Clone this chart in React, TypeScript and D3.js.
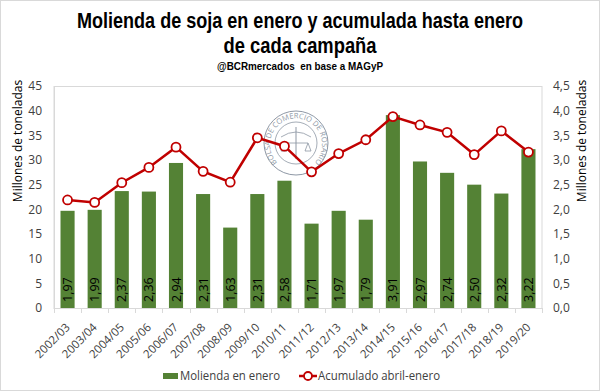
import React, { useEffect, useRef } from "react";
import * as d3 from "d3";

// campaigns
const campaigns = ["2002/03", "2003/04", "2004/05", "2005/06", "2006/07", "2007/08", "2008/09", "2009/10", "2010/11", "2011/12", "2012/13", "2013/14", "2014/15", "2015/16", "2016/17", "2017/18", "2018/19", "2019/20"];
// molienda en enero (Mt), right axis
const molienda = [1.97, 1.99, 2.37, 2.36, 2.94, 2.31, 1.63, 2.31, 2.58, 1.71, 1.97, 1.79, 3.91, 2.97, 2.74, 2.50, 2.32, 3.22];
// acumulado abril-enero (Mt), left axis
const acumulado = [21.9, 21.4, 25.4, 28.5, 32.6, 27.7, 25.5, 34.5, 32.8, 27.6, 31.3, 34.1, 38.8, 37.1, 35.6, 31.1, 35.9, 31.6];
const leftTicks = [0, 5, 10, 15, 20, 25, 30, 35, 40, 45];
const rightTicks = [0, 0.5, 1, 1.5, 2, 2.5, 3, 3.5, 4, 4.5];

const W = 600;
const H = 391;
const margin = { top: 86, right: 58, bottom: 83, left: 54 };
const labelFont = "'Open Sans', 'DejaVu Sans', sans-serif";
const titleFont = "'Liberation Sans', Arial, sans-serif";
const green = "#548235";
const red = "#C00000";

const fmt = (v: number, d: number) => v.toFixed(d).replace(".", ",");

export default function App() {
  const ref = useRef<SVGSVGElement>(null);

  useEffect(() => {
    const svg = d3.select(ref.current);
    svg.selectAll("*").remove();
    const innerW = W - margin.left - margin.right;
    const innerH = H - margin.top - margin.bottom;

    // background and outer border
    svg.append("rect").attr("x", 0.5).attr("y", 0.5).attr("width", W - 1).attr("height", H - 1)
      .attr("fill", "#fff").attr("stroke", "#d9d9d9");

    // titles (condensed look via textLength)
    const title = (txt: string, y: number, size: number, len: number) =>
      svg.append("text").attr("x", 300).attr("y", y).attr("text-anchor", "middle")
        .attr("textLength", len).attr("lengthAdjust", "spacingAndGlyphs")
        .style("font-family", titleFont).style("font-weight", "bold").style("font-size", `${size}px`)
        .attr("xml:space", "preserve")
        .text(txt);
    title("Molienda de soja en enero y acumulada hasta enero", 28, 22.5, 446);
    title("de cada campaña", 53, 22.5, 153);
    title("@BCRmercados  en base a MAGyP", 70, 11, 166);

    const g = svg.append("g").attr("transform", `translate(${margin.left},${margin.top})`);

    const x = d3.scaleBand().domain(campaigns).range([0, innerW]).paddingInner(0.48).paddingOuter(0.24);
    const yL = d3.scaleLinear().domain([0, 45]).range([innerH, 0]);
    const yR = d3.scaleLinear().domain([0, 4.5]).range([innerH, 0]);

    // plot area border
    g.append("rect").attr("x", 0).attr("y", 0.5).attr("width", innerW).attr("height", innerH)
      .attr("fill", "none").attr("stroke", "#d9d9d9");

    // watermark seal
    const seal = g.append("g").attr("transform", `translate(${296 - margin.left},${143 - margin.top})`).attr("opacity", 0.6);
    seal.append("circle").attr("r", 32).attr("fill", "none").attr("stroke", "#44546a").attr("stroke-width", 1);
    seal.append("circle").attr("r", 21).attr("fill", "none").attr("stroke", "#44546a").attr("stroke-width", 0.8);
    seal.append("path").attr("id", "sealArc").attr("fill", "none")
      .attr("d", "M -20,18 A 26 26 0 1 1 20,18");
    seal.append("text").style("font-family", labelFont).style("font-size", "7.5px").attr("fill", "#44546a")
      .append("textPath").attr("href", "#sealArc").attr("startOffset", "50%").attr("text-anchor", "middle")
      .text("BOLSA DE COMERCIO DE ROSARIO");
    seal.append("line").attr("x1", 0).attr("x2", 0).attr("y1", -16).attr("y2", 16).attr("stroke", "#44546a");
    seal.append("path").attr("d", "M -15,-6 Q 0,-16 15,-6 M -12,0 L -15,8 L -9,8 Z M 12,0 L 9,8 L 15,8 Z M -12,0 L 12,0")
      .attr("fill", "none").attr("stroke", "#44546a").attr("stroke-width", 0.8);

    // bars
    g.selectAll("rect.bar").data(molienda).join("rect").attr("class", "bar")
      .attr("x", (d, i) => x(campaigns[i]) as number)
      .attr("width", x.bandwidth())
      .attr("y", d => yR(d))
      .attr("height", d => innerH - yR(d))
      .attr("fill", green);

    // bar labels
    g.selectAll("text.blabel").data(molienda).join("text").attr("class", "blabel")
      .attr("transform", (d, i) => `translate(${(x(campaigns[i]) as number) + x.bandwidth() / 2 + 4.5},${innerH - 6}) rotate(-90)`)
      .style("font-family", labelFont).style("font-size", "12.5px").attr("fill", "#000")
      .text(d => fmt(d, 2));

    // line
    const line = d3.line<number>()
      .x((d, i) => (x(campaigns[i]) as number) + x.bandwidth() / 2)
      .y(d => yL(d));
    g.append("path").datum(acumulado).attr("d", line).attr("fill", "none")
      .attr("stroke", red).attr("stroke-width", 2.5);
    g.selectAll("circle.pt").data(acumulado).join("circle").attr("class", "pt")
      .attr("cx", (d, i) => (x(campaigns[i]) as number) + x.bandwidth() / 2)
      .attr("cy", d => yL(d)).attr("r", 4.5)
      .attr("fill", "#fff").attr("stroke", red).attr("stroke-width", 1.8);

    // x axis
    const step = x.step();
    const xa = g.append("g").attr("transform", `translate(0,${innerH})`);
    xa.append("line").attr("x1", 0).attr("x2", innerW).attr("y1", 0.5).attr("y2", 0.5).attr("stroke", "#d9d9d9");
    d3.range(campaigns.length + 1).forEach(i => {
      const px = Math.round(i * step) + 0.5;
      xa.append("line").attr("x1", px).attr("x2", px).attr("y1", 0).attr("y2", 5).attr("stroke", "#d9d9d9");
    });
    xa.selectAll("text").data(campaigns).join("text")
      .attr("transform", d => `translate(${(x(d) as number) + x.bandwidth() / 2 + 3},${20}) rotate(-45)`)
      .attr("text-anchor", "end")
      .style("font-family", labelFont).style("font-size", "11.5px").attr("fill", "#404040")
      .text(d => d);

    // left axis
    const la = g.append("g").call(d3.axisLeft(yL).tickValues(leftTicks).tickSize(0).tickPadding(12));
    la.select(".domain").attr("stroke", "#d9d9d9");
    la.selectAll("text").style("font-family", labelFont).style("font-size", "12px").attr("fill", "#404040");

    // right axis
    const ra = g.append("g").attr("transform", `translate(${innerW},0)`)
      .call(d3.axisRight(yR).tickValues(rightTicks).tickSize(0).tickPadding(11).tickFormat(d => fmt(d as number, 1)));
    ra.select(".domain").remove();
    ra.selectAll("text").style("font-family", labelFont).style("font-size", "12px").attr("fill", "#404040");

    // axis titles
    svg.append("text").attr("transform", `translate(22,${margin.top + 55}) rotate(-90)`).attr("text-anchor", "middle")
      .style("font-family", labelFont).style("font-size", "12px").attr("fill", "#000").text("Millones de toneladas");
    svg.append("text").attr("transform", `translate(586,${margin.top + 55}) rotate(-90)`).attr("text-anchor", "middle")
      .style("font-family", labelFont).style("font-size", "12px").attr("fill", "#000").text("Millones de toneladas");

    // legend
    const lg = svg.append("g").attr("transform", "translate(0,376)");
    lg.append("rect").attr("x", 163).attr("y", -3).attr("width", 15).attr("height", 6).attr("fill", green);
    lg.append("text").attr("x", 180).attr("y", 4).attr("textLength", 100).attr("lengthAdjust", "spacingAndGlyphs")
      .style("font-family", labelFont).style("font-size", "12px")
      .attr("fill", "#404040").text("Molienda en enero");
    lg.append("line").attr("x1", 299).attr("x2", 317).attr("y1", 0).attr("y2", 0).attr("stroke", red).attr("stroke-width", 2.5);
    lg.append("circle").attr("cx", 308).attr("cy", 0).attr("r", 4).attr("fill", "#fff").attr("stroke", red).attr("stroke-width", 1.8);
    lg.append("text").attr("x", 318).attr("y", 4).attr("textLength", 122).attr("lengthAdjust", "spacingAndGlyphs")
      .style("font-family", labelFont).style("font-size", "12px")
      .attr("fill", "#404040").text("Acumulado abril-enero");
  }, []);

  return (
    <div style={{ position: "fixed", left: 0, top: 0 }}>
      <svg ref={ref} width={W} height={H} style={{ display: "block" }} />
    </div>
  );
}
